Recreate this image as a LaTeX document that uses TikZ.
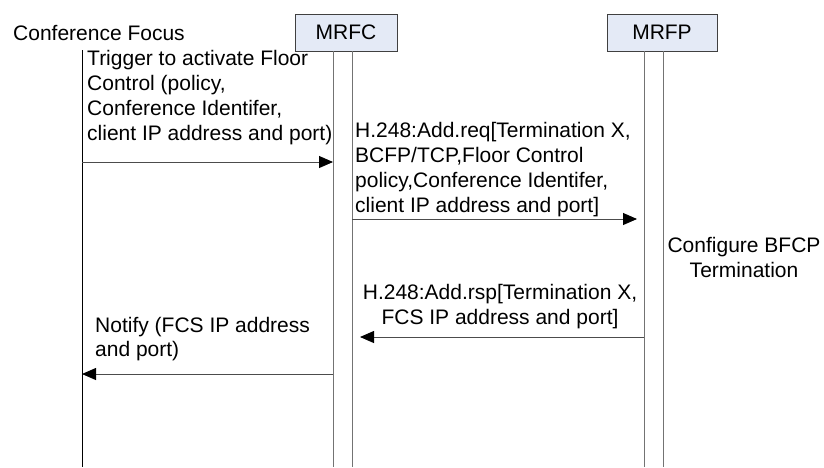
\documentclass[tikz,border=0pt]{standalone}
\usepackage{fontspec}
\setmainfont{Liberation Sans}
\usetikzlibrary{arrows.meta}
\definecolor{boxfill}{HTML}{E4EAF6}
\begin{document}
\begin{tikzpicture}[x=1pt,y=-1pt,
  lbl/.style={font=\fontsize{21}{25}\selectfont, inner sep=0pt, align=left},
  actor/.style={draw=black!75, fill=boxfill, line width=0.8pt, inner sep=0pt,
    font=\fontsize{21}{25}\selectfont},
  life/.style={draw=black!55, line width=0.9pt},
  cflife/.style={draw=black, line width=0.9pt},
  msg/.style={draw=black!70, line width=0.9pt, -{Triangle[length=14pt,width=12pt,color=black]}}]
\useasboundingbox (0,0) rectangle (824,467);

% actors
\node[lbl, anchor=west] (cf) at (13,33) {Conference Focus};
\node[actor, minimum width=102pt, minimum height=37pt] (mrfc) at (346,32.5) {MRFC};
\node[actor, minimum width=110pt, minimum height=37pt] (mrfp) at (662,32.5) {MRFP};

% lifelines
\coordinate (cfT) at (82,50);   \coordinate (cfB) at (82,467);
\coordinate (cL1) at (333,51);  \coordinate (cL1b) at (333,467);
\coordinate (cL2) at (352,51);  \coordinate (cL2b) at (352,467);
\coordinate (pL1) at (644,51);  \coordinate (pL1b) at (644,467);
\coordinate (pL2) at (663,51);  \coordinate (pL2b) at (663,467);
\draw[cflife] (cfT) -- (cfB);
\draw[life] (cL1) -- (cL1b);
\draw[life] (cL2) -- (cL2b);
\draw[life] (pL1) -- (pL1b);
\draw[life] (pL2) -- (pL2b);

% message 1
\coordinate (m1s) at (82,162);  \coordinate (m1e) at (333,162);
\draw[msg] (m1s) -- (m1e);
\node[lbl, anchor=north west] (t1) at (87,50.5) {Trigger to activate Floor\\Control (policy,\\Conference Identifer,\\client IP address and port)};

% message 2
\coordinate (m2s) at (352,219); \coordinate (m2e) at (637,219);
\draw[msg] (m2s) -- (m2e);
\node[lbl, anchor=north west] (t2) at (355,122.5) {H.248:Add.req[Termination X,\\BCFP/TCP,Floor Control\\policy,Conference Identifer,\\client IP address and port]};

% action at MRFP
\node[lbl, align=center, anchor=north] (cfg) at (744,237.5) {Configure BFCP\\Termination};

% message 3
\coordinate (m3s) at (644,337); \coordinate (m3e) at (360,337);
\draw[msg] (m3s) -- (m3e);
\node[lbl, align=center, anchor=north] (t3) at (500,284.5) {H.248:Add.rsp[Termination X,\\FCS IP address and port]};

% message 4
\coordinate (m4s) at (333,374); \coordinate (m4e) at (82,374);
\draw[msg] (m4s) -- (m4e);
\node[lbl, anchor=north west, font=\fontsize{21}{23.5}\selectfont] (t4) at (95,317.5) {Notify (FCS IP address\\and port)};
\end{tikzpicture}
\end{document}
